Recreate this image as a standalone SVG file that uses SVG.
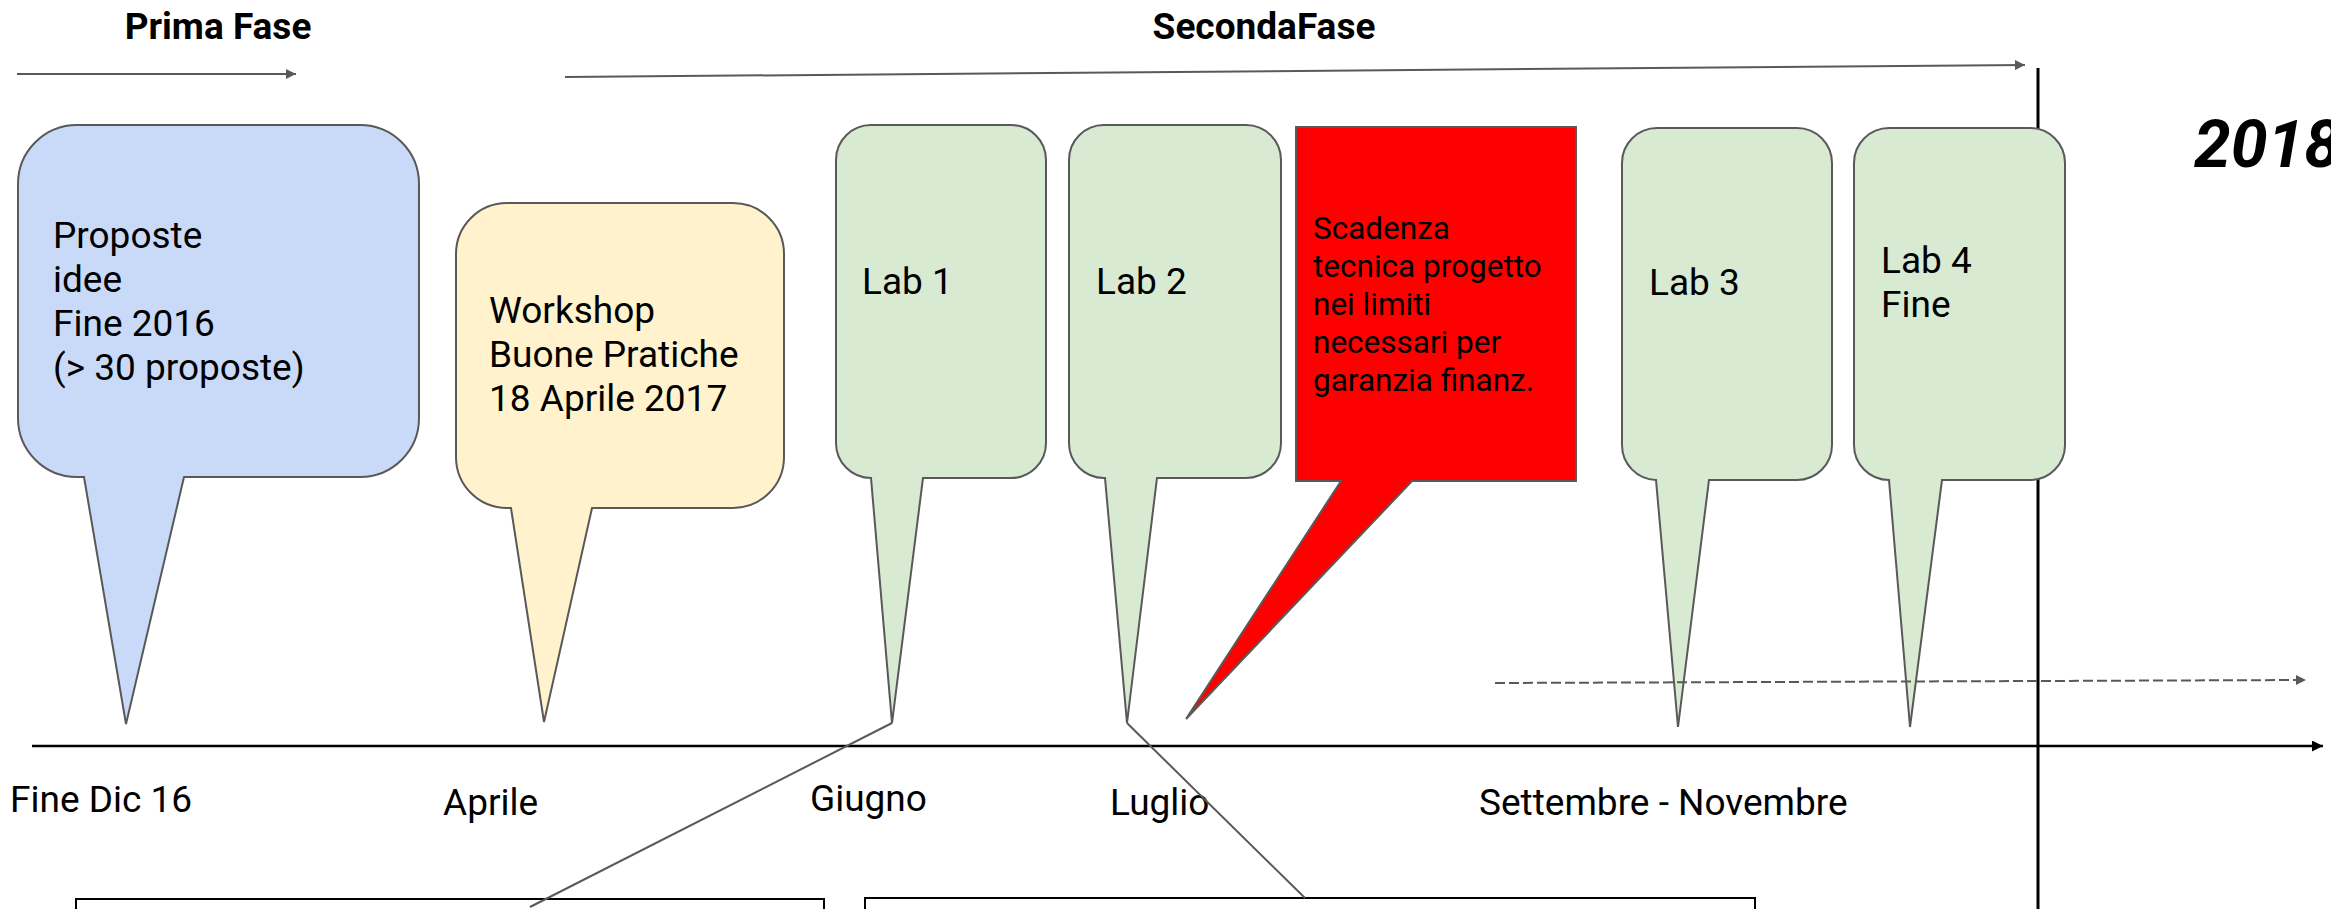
<svg xmlns="http://www.w3.org/2000/svg" width="2331" height="909" viewBox="0 0 2331 909">
<style>
text{font-family:Roboto,"Liberation Sans",sans-serif;fill:#000}
.lbl{font-size:37px}
.red{font-size:31.5px}
.head{font-size:37px;font-weight:bold}
.year{font-size:66px;font-weight:bold;font-style:italic}
.co{stroke:#595959;stroke-width:2;stroke-linejoin:miter}
.blue{fill:#c9daf8}.yel{fill:#fff2cc}.grn{fill:#d9ead3}.rd{fill:#ff0000}
.garrow{stroke:#595959;stroke-width:2;fill:none}
.conn{stroke:#595959;stroke-width:2;fill:none}
.box{fill:#fff;stroke:#000;stroke-width:2}
</style>
<defs>
<marker id="ag" viewBox="0 0 10 10" refX="10" refY="5" markerUnits="userSpaceOnUse" markerWidth="13" markerHeight="10" orient="auto"><path d="M0,0 L10,5 L0,10 z" fill="#595959"/></marker>
<marker id="ab" viewBox="0 0 10 10" refX="10" refY="5" markerUnits="userSpaceOnUse" markerWidth="13" markerHeight="11" orient="auto"><path d="M0,0 L10,5 L0,10 z" fill="#000"/></marker>
</defs>
<rect width="2331" height="909" fill="#fff"/>

<g id="headings">
<text class="head" x="218" y="39" text-anchor="middle">Prima Fase</text>
<text class="head" x="1264" y="39" text-anchor="middle">SecondaFase</text>
<text class="year" x="2194" y="167">2018</text>
</g>

<g id="axes">
<line x1="2038" y1="68" x2="2038" y2="909" stroke="#000" stroke-width="3"/>
<line x1="32" y1="746" x2="2323" y2="746" stroke="#000" stroke-width="2.5" marker-end="url(#ab)"/>
</g>

<g id="node-proposte">
<path class="co blue" d="M77,125 H360 A59,59 0 0 1 419,184 V418 A59,59 0 0 1 360,477 H184 L126,724 L84,477 H77 A59,59 0 0 1 18,418 V184 A59,59 0 0 1 77,125 Z"/>
<text class="lbl" x="53" y="248">Proposte</text>
<text class="lbl" x="53" y="292">idee</text>
<text class="lbl" x="53" y="336">Fine 2016</text>
<text class="lbl" x="53" y="380">(&gt; 30 proposte)</text>
</g>

<g id="node-workshop">
<path class="co yel" d="M507,203 H733 A51,51 0 0 1 784,254 V457 A51,51 0 0 1 733,508 H592 L544,722 L511,508 H507 A51,51 0 0 1 456,457 V254 A51,51 0 0 1 507,203 Z"/>
<text class="lbl" x="489" y="323">Workshop</text>
<text class="lbl" x="489" y="367">Buone Pratiche</text>
<text class="lbl" x="489" y="411">18 Aprile 2017</text>
</g>

<g id="node-lab1">
<path class="co grn" d="M871,125 H1011 A35,35 0 0 1 1046,160 V443 A35,35 0 0 1 1011,478 H923 L892,723 L871,478 A35,35 0 0 1 836,443 V160 A35,35 0 0 1 871,125 Z"/>
<text class="lbl" x="862" y="294">Lab 1</text>
</g>

<g id="node-lab2">
<path class="co grn" d="M1104,125 H1246 A35,35 0 0 1 1281,160 V443 A35,35 0 0 1 1246,478 H1157 L1127,723 L1105,478 H1104 A35,35 0 0 1 1069,443 V160 A35,35 0 0 1 1104,125 Z"/>
<text class="lbl" x="1096" y="294">Lab 2</text>
</g>

<g id="node-scadenza">
<path class="co rd" d="M1296,127 H1576 V481 H1412 L1186,719 L1341,481 H1296 Z"/>
<text class="red" x="1313" y="239">Scadenza</text>
<text class="red" x="1313" y="277">tecnica progetto</text>
<text class="red" x="1313" y="315">nei limiti</text>
<text class="red" x="1313" y="353">necessari per</text>
<text class="red" x="1313" y="391">garanzia finanz.</text>
</g>

<g id="node-lab3">
<path class="co grn" d="M1657,128 H1797 A35,35 0 0 1 1832,163 V445 A35,35 0 0 1 1797,480 H1709 L1678,727 L1656,480 A35,35 0 0 1 1622,445 V163 A35,35 0 0 1 1657,128 Z"/>
<text class="lbl" x="1649" y="295">Lab 3</text>
</g>

<g id="node-lab4">
<path class="co grn" d="M1889,128 H2030 A35,35 0 0 1 2065,163 V445 A35,35 0 0 1 2030,480 H1942 L1910,727 L1889,480 A35,35 0 0 1 1854,445 V163 A35,35 0 0 1 1889,128 Z"/>
<text class="lbl" x="1881" y="273">Lab 4</text>
<text class="lbl" x="1881" y="317">Fine</text>
</g>

<g id="months">
<text class="lbl" x="10" y="812">Fine Dic 16</text>
<text class="lbl" x="443" y="815">Aprile</text>
<text class="lbl" x="810" y="811">Giugno</text>
<text class="lbl" x="1110" y="815">Luglio</text>
<text class="lbl" x="1479" y="815">Settembre - Novembre</text>
</g>

<g id="node-box1"><rect class="box" x="76" y="899" width="748" height="30"/></g>
<g id="node-box2"><rect class="box" x="865" y="898" width="890" height="30"/></g>

<g id="connectors">
<line class="garrow" x1="17" y1="74" x2="296" y2="74" marker-end="url(#ag)"/>
<line class="garrow" x1="565" y1="77" x2="2025" y2="65" marker-end="url(#ag)"/>
<line class="garrow" x1="1495" y1="683" x2="2306" y2="680" stroke-dasharray="10,4" marker-end="url(#ag)"/>
<line class="conn" x1="892" y1="723" x2="530" y2="907"/>
<line class="conn" x1="1127" y1="723" x2="1305" y2="898"/>
</g>
</svg>
